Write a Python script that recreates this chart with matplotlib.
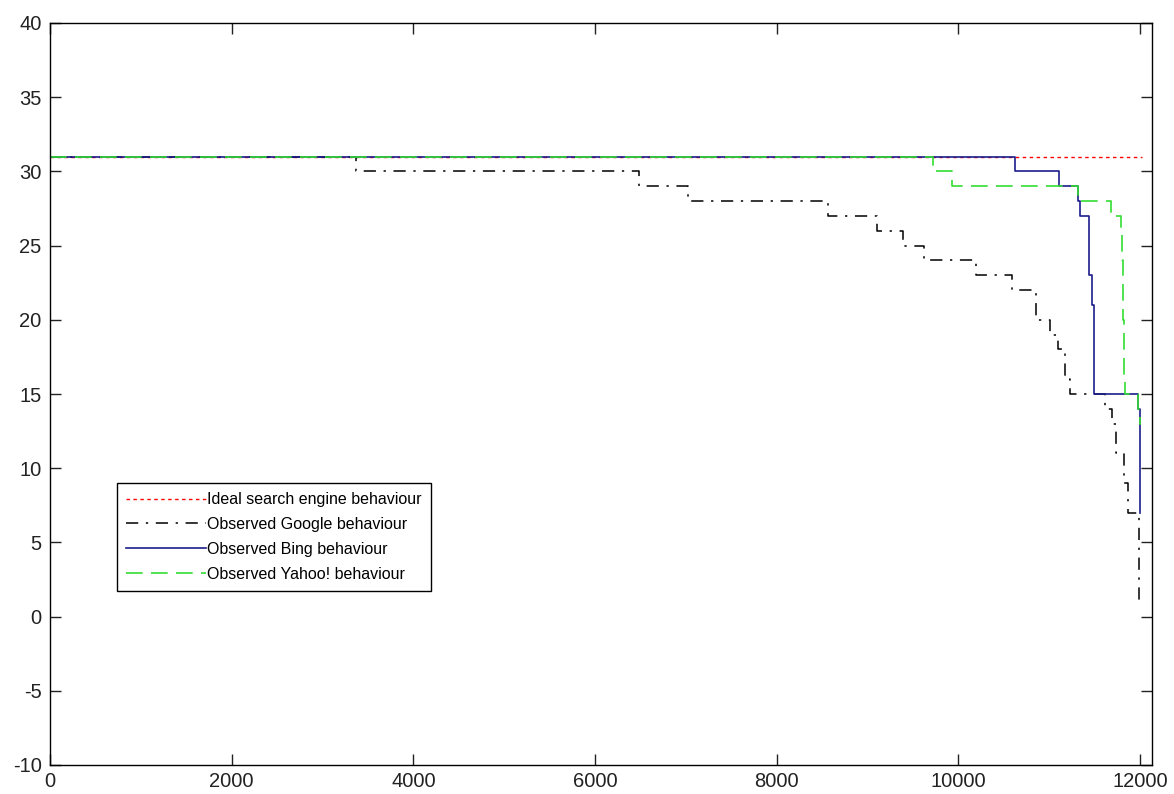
import matplotlib
matplotlib.use("Agg")
import matplotlib.pyplot as plt

plt.rcParams['font.family'] = ['Liberation Sans', 'DejaVu Sans']
plt.rcParams['axes.unicode_minus'] = False

# Data (step functions: value holds from x[i] to x[i+1])
ideal_x = [0, 12020]
ideal_y = [31, 31]

google_x = [0, 3370, 6485, 7024, 8565, 9104, 9391, 9622, 10195, 10591, 10855,
            11010, 11100, 11170, 11230, 11614, 11690, 11736, 11824, 11868, 11985, 12000]
google_y = [31, 30, 29, 28, 27, 26, 25, 24, 23, 22, 20,
            19, 18, 16, 15, 14, 13, 11, 9, 7, 1, 1]

bing_x = [0, 10624, 11108, 11317, 11340, 11440, 11470, 11495, 11975, 11995, 12000]
bing_y = [31, 30, 29, 28, 27, 23, 21, 15, 14, 7, 7]

yahoo_x = [0, 9720, 9930, 11317, 11680, 11790, 11800, 11810, 11820, 11830, 11980, 12000, 12010]
yahoo_y = [31, 30, 29, 28, 27, 26, 24, 20, 16, 15, 14, 13, 13]

labels = ['Ideal search engine behaviour', 'Observed Google behaviour',
          'Observed Bing behaviour', 'Observed Yahoo! behaviour']

xticks = [0, 2000, 4000, 6000, 8000, 10000, 12000]
yticks = [-10, -5, 0, 5, 10, 15, 20, 25, 30, 35, 40]

fig = plt.figure(figsize=(11.74, 7.94), dpi=100)
ax = fig.add_axes([50/1174, 29/794, 1102/1174, 742/794])

ax.plot(ideal_x, ideal_y, linestyle=(0, (2.5, 2.5)), color='#ff0000', lw=1.0, label=labels[0])
ax.plot(google_x, google_y, linestyle=(0, (8, 5, 1.5, 5)), color='black', lw=1.1,
        drawstyle='steps-post', label=labels[1])
ax.plot(bing_x, bing_y, linestyle='-', color='#1c1c8c', lw=1.2,
        drawstyle='steps-post', label=labels[2])
ax.plot(yahoo_x, yahoo_y, linestyle=(0, (10, 5)), color='#33dd33', lw=1.2,
        drawstyle='steps-post', label=labels[3])

ax.set_xlim(0, 12130)
ax.set_ylim(-10, 40)
ax.set_xticks(xticks)
ax.set_yticks(yticks)
ax.tick_params(direction='in', length=8, width=1, top=True, right=True,
               labelsize=14.5, colors='#222222')
ax.tick_params(axis='x', pad=5)
ax.tick_params(axis='y', pad=6)
for s in ax.spines.values():
    s.set_linewidth(1.0)

leg = ax.legend(loc='lower left', bbox_to_anchor=(0.061, 0.235), fontsize=11.5,
                frameon=True, fancybox=False, edgecolor='black', framealpha=1,
                handlelength=5.0, handletextpad=0.1, borderpad=0.55,
                labelspacing=0.62, borderaxespad=0)
leg.get_frame().set_linewidth(1.0)

fig.savefig('out.png', dpi=100)
